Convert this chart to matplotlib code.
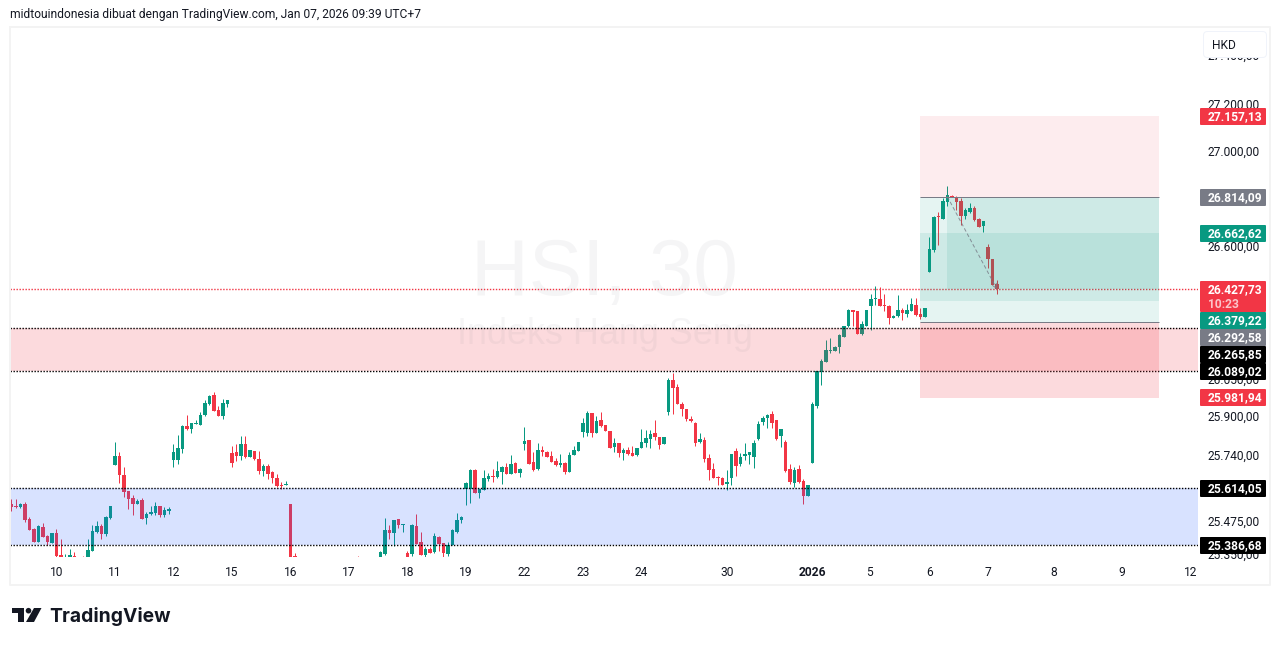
import numpy as np
import matplotlib
matplotlib.use("Agg")
import matplotlib.pyplot as plt
from matplotlib.patches import Rectangle, FancyBboxPatch, Polygon, Circle
from matplotlib.ticker import NullLocator
from matplotlib.transforms import ScaledTranslation

nan = float("nan")
W, H = 1281, 646

# ── 30 min bars, 13 per row ───────────────────────────────────────────────────
opens = [
    25550,25542,25538,25550,25490,25450,25397,25458,25421,25393,25433,25345,25333,
    25333,25341,nan,25335,25333,25361,25437,25462,25429,25494,25707,25744,25667,
    25603,25574,25550,25566,25494,25510,25514,25542,25506,25522,25728,25728,25772,
    25865,25853,25873,25869,25909,25957,25994,25929,25905,25957,25756,25760,25744,
    25792,25740,25764,25732,25683,25703,25679,25655,25627,25627,25550,25341,nan,
    nan,nan,nan,nan,nan,nan,nan,nan,nan,nan,nan,nan,25335,
    nan,nan,nan,nan,25333,25349,25446,25434,25490,25466,25353,25349,25462,
    25398,25345,25369,25357,25418,25393,25349,25385,25438,25486,25611,25611,25688,
    25595,25607,25651,25664,25659,25680,25700,25672,25716,25676,25792,25809,25720,
    25692,25768,25760,25744,25724,25708,25716,25680,25748,25764,25841,25837,25917,
    25837,25892,25871,25847,25781,25797,25756,25768,25756,25748,25777,25797,25814,
    25838,25822,25793,25924,26052,26023,25957,25936,25895,25880,25801,25810,25735,
    25690,25661,25657,25632,25657,25764,25711,25744,25748,25740,25814,25884,25900,
    25916,25891,25826,25801,25690,25636,25690,25645,25583,25715,25949,26085,26126,
    26171,26171,26188,26229,26274,26340,26336,26241,26274,26357,26386,26386,26361,
    26357,26307,26315,26340,26324,26336,26361,26324,26311,26499,26591,26734,26721,
    26793,26818,26814,26797,26734,26751,26767,26721,26692,26604,26553,26448,
]
highs = [
    25570,25570,25556,25558,25498,25454,25466,25474,25425,25433,25450,25409,25349,
    25369,25357,nan,25341,25409,25466,25482,25470,25502,25542,25800,25760,25699,
    25603,25587,25570,25574,25518,25542,25558,25542,25538,25538,25792,25828,25869,
    25909,25877,25889,25921,25973,25994,26006,25949,25977,25973,25784,25792,25824,
    25824,25768,25764,25764,25711,25711,25683,25671,25639,25643,25550,25353,nan,
    nan,nan,nan,nan,nan,nan,nan,nan,nan,nan,nan,nan,25341,
    nan,nan,nan,nan,25361,25494,25466,25486,25490,25470,25361,25470,25510,
    25438,25377,25377,25434,25422,25393,25398,25450,25514,25502,25639,25692,25692,
    25611,25688,25676,25692,25724,25704,25716,25748,25720,25696,25861,25809,25760,
    25796,25784,25764,25764,25736,25752,25720,25760,25784,25801,25897,25925,25917,
    25905,25921,25871,25847,25818,25797,25777,25781,25785,25777,25855,25851,25851,
    25892,25822,25822,26060,26081,26039,25965,25936,25908,25884,25838,25822,25752,
    25715,25665,25661,25686,25752,25777,25756,25797,25760,25810,25888,25908,25916,
    25928,25891,25855,25810,25711,25698,25707,25653,25628,25965,26089,26138,26217,
    26225,26192,26241,26274,26344,26340,26336,26295,26340,26410,26443,26435,26406,
    26361,26320,26402,26348,26365,26390,26390,26348,26348,26646,26734,26751,26809,
    26860,26822,26818,26809,26767,26788,26776,26725,26713,26616,26553,26465,
]
lows = [
    25523,25534,25534,25479,25446,25397,25397,25417,25385,25393,25337,25333,25333,
    25333,25333,nan,25333,25333,25361,25433,25409,25421,25490,25707,25635,25578,
    25530,25506,25550,25490,25470,25506,25506,25498,25498,25510,25699,25711,25756,
    25848,25836,25873,25869,25905,25953,25925,25905,25893,25945,25699,25724,25728,
    25736,25740,25728,25671,25663,25651,25635,25619,25611,25627,25333,25333,nan,
    nan,nan,nan,nan,nan,nan,nan,nan,nan,nan,nan,nan,25333,
    nan,nan,nan,nan,25333,25345,25410,25381,25454,25438,25333,25341,25389,
    25345,25333,25353,25353,25361,25337,25341,25385,25434,25474,25547,25555,25595,
    25575,25607,25643,25639,25655,25631,25672,25672,25676,25659,25768,25712,25684,
    25688,25744,25740,25720,25704,25700,25672,25680,25748,25764,25821,25825,25821,
    25837,25863,25847,25777,25760,25740,25727,25748,25744,25744,25777,25781,25777,
    25810,25773,25793,25912,25916,25957,25908,25887,25884,25785,25797,25719,25649,
    25657,25628,25628,25608,25628,25665,25702,25727,25711,25694,25810,25871,25859,
    25859,25810,25781,25678,25632,25620,25636,25550,25583,25715,25941,26035,26126,
    26163,26171,26163,26229,26270,26274,26241,26237,26274,26258,26361,26357,26336,
    26283,26307,26311,26299,26311,26336,26315,26303,26311,26499,26583,26612,26721,
    26776,26814,26759,26696,26721,26746,26713,26688,26667,26515,26444,26410,
]
closes = [
    25538,25538,25550,25486,25446,25397,25462,25417,25397,25433,25341,25333,25337,
    25345,25333,nan,25333,25365,25441,25462,25429,25498,25542,25744,25667,25599,
    25570,25550,25562,25490,25510,25518,25542,25506,25526,25530,25760,25776,25865,
    25853,25877,25877,25909,25961,25990,25925,25905,25961,25973,25716,25744,25792,
    25740,25768,25732,25683,25703,25671,25655,25623,25623,25631,25333,25333,nan,
    nan,nan,nan,nan,nan,nan,nan,nan,nan,nan,nan,nan,25333,
    nan,nan,nan,nan,25357,25446,25434,25486,25466,25470,25333,25466,25389,
    25345,25369,25353,25422,25389,25353,25385,25446,25486,25498,25635,25688,25595,
    25611,25655,25664,25659,25684,25700,25672,25712,25676,25692,25805,25712,25688,
    25768,25760,25740,25720,25708,25716,25680,25748,25768,25801,25877,25917,25837,
    25885,25867,25847,25777,25797,25756,25768,25752,25744,25777,25801,25818,25834,
    25822,25789,25822,26052,26019,25957,25936,25895,25888,25797,25814,25731,25686,
    25657,25657,25628,25641,25752,25702,25740,25752,25760,25797,25876,25900,25912,
    25880,25814,25855,25682,25641,25686,25641,25583,25628,25957,26089,26130,26175,
    26175,26188,26237,26274,26340,26332,26241,26283,26340,26386,26390,26357,26357,
    26307,26315,26340,26328,26340,26365,26320,26311,26348,26595,26730,26730,26797,
    26822,26814,26793,26734,26759,26767,26717,26688,26713,26553,26444,26428,
]

# time axis (bar index of each day)
day_bars = [10, 23, 36, 49, 62, 75, 88, 101, 114, 127, 140, 159, 178, 190.7, 204, 217, 231.7, 246.8, 262]
day_labels = ["10", "11", "12", "15", "16", "17", "18", "19", "22", "23", "24", "30",
              "2026", "5", "6", "7", "8", "9", "12"]

# price axis
price_ticks = [27410, 27200, 27000, 26600, 26050, 25900, 25740, 25475, 25345]
price_tick_labels = ["27.400,00", "27.200,00", "27.000,00", "26.600,00", "26.050,00",
                     "25.900,00", "25.740,00", "25.475,00", "25.350,00"]

# drawings
LAST_PRICE = 26427.73
RED_ZONE = (26089.02, 26265.85)
BLUE_ZONE = (25386.68, 25614.05)
TOOL_LEFT, TOOL_RIGHT, TOOL_PNL_LEFT = 201.9, 255.0, 208.0
TOOL_STOP = 27157.13
TOOL_ENTRY = 26814.09
TOOL_TARGET = 26292.58
TOOL2_TARGET = 26662.62
TOOL2_ENTRY = 26379.22
TOOL2_STOP = 25981.94

# price scale labels: text, box colour, top and bottom pixel of the box
tag_text = ["27.157,13", "26.814,09", "26.662,62", "26.427,73", "26.379,22", "26.292,58",
            "26.265,85", "26.089,02", "25.981,94", "25.614,05", "25.386,68"]
tag_color = ["#F23645", "#787B86", "#089981", "#F23645", "#089981", "#787B86",
             "#000000", "#000000", "#F23645", "#000000", "#000000"]
tag_top = [108, 189, 225, 281, 312, 329, 346, 363, 389, 480, 537]
tag_bot = [125, 206, 242, 312, 329, 346, 363, 380, 406, 497, 554]

GREEN, RED = "#089981", "#F23645"
TEXT = "#131722"
plt.rcParams["font.family"] = ["Roboto", "DejaVu Sans"]
PX = 0.72  # points per pixel at dpi 100

fig = plt.figure(figsize=(W / 100, H / 100), dpi=100, facecolor="white")
# pane spans x 10..1198, y 27..557 in image pixels
ax = fig.add_axes([10 / W, 1 - 557 / H, 1188 / W, 530 / H])
ax.set_yscale("log")
ax.set_xlim(-0.33, 263.67)
ax.set_ylim(25338.8, 27539.6)
for s in ax.spines.values():
    s.set_visible(False)

# candles
o, h, l, c = map(np.array, (opens, highs, lows, closes))
x = np.arange(len(o))
ok = ~np.isnan(o)
col = np.where(c >= o, GREEN, RED)
ax.vlines(x[ok], l[ok], h[ok], colors=col[ok], lw=1 * PX, zorder=2)
top, bot = np.maximum(o, c), np.minimum(o, c)
ax.bar(x[ok], (top - bot)[ok], bottom=bot[ok], width=0.68, color=col[ok], lw=0, zorder=2)

# zones and dotted levels
ax.axhspan(*RED_ZONE, color=RED, alpha=0.18, lw=0, zorder=3)
ax.axhspan(*BLUE_ZONE, color="#2962FF", alpha=0.18, lw=0, zorder=3)
for lev in list(RED_ZONE) + list(BLUE_ZONE):
    ax.axhline(lev, color="black", lw=1.4 * PX, ls=(0, (1, 1.14)), zorder=4)
ax.axhline(LAST_PRICE, color=RED, lw=1.4 * PX, ls=(0, (1, 1.14)), zorder=4)


def box(x0, x1, p0, p1, color, alpha):
    ax.add_patch(Rectangle((x0, p0), x1 - x0, p1 - p0, fc=color, alpha=alpha, lw=0, zorder=5))


# position tools
box(TOOL_LEFT, TOOL_RIGHT, TOOL_ENTRY, TOOL_STOP, RED, 0.09)
box(TOOL_LEFT, TOOL_RIGHT, TOOL_TARGET, TOOL_ENTRY, GREEN, 0.1)
box(TOOL_LEFT, TOOL_RIGHT, TOOL2_ENTRY, TOOL2_TARGET, GREEN, 0.1)
box(TOOL_LEFT, TOOL_RIGHT, TOOL2_STOP, TOOL_TARGET, RED, 0.18)
box(TOOL_PNL_LEFT, TOOL_RIGHT, LAST_PRICE, TOOL_ENTRY, GREEN, 0.1)
ax.hlines([TOOL_ENTRY, TOOL_TARGET], TOOL_LEFT, TOOL_RIGHT, colors="#787B86", lw=1 * PX, zorder=6)
ax.annotate("", xy=(219, LAST_PRICE), xytext=(TOOL_PNL_LEFT, TOOL_ENTRY), zorder=6,
            arrowprops=dict(arrowstyle="->", color="#787B86", lw=1 * PX, ls=(0, (3, 3)),
                            alpha=0.8, shrinkA=0, shrinkB=0, mutation_scale=8))

# ticks
ax.yaxis.tick_right()
ax.set_yticks(price_ticks)
ax.set_yticklabels(price_tick_labels)
ax.yaxis.set_minor_locator(NullLocator())
ax.tick_params(axis="y", which="both", length=0, pad=10 * PX, labelsize=12 * PX, labelcolor=TEXT)
ax.set_xticks(day_bars)
ax.set_xticklabels(day_labels)
ax.tick_params(axis="x", length=0, pad=9 * PX, labelsize=12 * PX, labelcolor=TEXT)
for lab in ax.get_xticklabels():
    if lab.get_text() == "2026":
        lab.set_fontweight("bold")
up_2px = ScaledTranslation(0, 2 / 100, fig.dpi_scale_trans)
for lab in ax.yaxis.get_majorticklabels():
    lab.set_transform(lab.get_transform() + up_2px)

# overlay in image pixels for the chrome and the price tags
ov = fig.add_axes([0, 0, 1, 1])
ov.set_xlim(0, W)
ov.set_ylim(H, 0)
ov.axis("off")
ov.patch.set_alpha(0)

wm = "#787B86"
ov.text(604, 266, "HSI, 30", ha="center", va="center_baseline", fontsize=80 * PX, family="Liberation Sans",
        color=wm, alpha=0.07, zorder=1)
ov.text(605, 335, "Indeks Hang Seng", ha="center", va="center", fontsize=36 * PX,
        family="Liberation Sans", color=wm, alpha=0.07, zorder=1)

# frame
frame = "#F3F3F3"
ov.plot([10, 10, 1270, 1270, 10], [27, 585, 585, 27, 27], color=frame, lw=2 * PX, zorder=1)

ov.text(10, 14.5, "midtouindonesia dibuat dengan TradingView.com, Jan 07, 2026 09:39 UTC+7",
        fontsize=12 * PX, color=TEXT, va="center", ha="left")

# currency button
ov.add_patch(FancyBboxPatch((1205, 33), 60, 23, boxstyle="round,pad=1.5,rounding_size=4",
                            fc="white", ec="#F0F3FA", lw=1 * PX, zorder=3))
ov.text(1212, 44, "HKD", fontsize=12 * PX, color=TEXT, va="center_baseline", zorder=4)

for txt, fc, t, b in zip(tag_text, tag_color, tag_top, tag_bot):
    ov.add_patch(FancyBboxPatch((1200.5, t + 0.5), 65, b - t - 1, boxstyle="round,pad=0.5,rounding_size=1",
                                fc=fc, ec=fc, lw=0, zorder=5))
    cy = (t + b) / 2 - 1.5 if b - t < 20 else t + 7.5
    ov.text(1208, cy, txt, color="white", fontsize=12 * PX, fontweight="bold",
            va="center_baseline", zorder=6)
ov.text(1208, 302.5, "10:23", color="#FBC4C9", fontsize=12 * PX, fontweight="bold",
        va="center_baseline", zorder=6)

# logo
ink = "#131722"
ov.add_patch(Polygon([(12, 608), (24, 608), (24, 622), (18, 622), (18, 613), (12, 613)], fc=ink, lw=0))
ov.add_patch(Circle((28.5, 610.7), 2.8, fc=ink, lw=0))
ov.add_patch(Polygon([(34, 608), (41.5, 608), (34, 622), (26, 622)], fc=ink, lw=0))
ov.text(49, 616, "TradingView", fontsize=19.3 * PX, family="Inter", fontweight="bold", color=ink,
        va="center")

fig.savefig("out.png", dpi=100, facecolor="white")
